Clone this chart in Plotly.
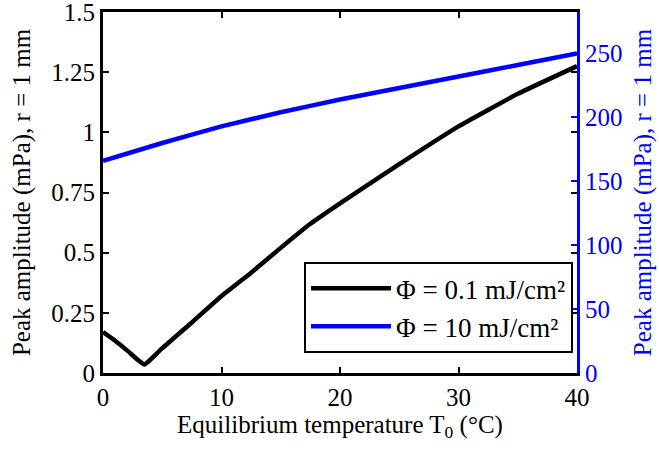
import plotly.graph_objects as go

# Data
t_low = [0, 1, 2, 3, 3.5, 4, 5, 7.5, 10, 12.5, 15, 17.5, 20, 25, 30, 35, 40]
amp_low = [0.17, 0.135, 0.095, 0.052, 0.035, 0.055, 0.103, 0.21, 0.32, 0.417, 0.52, 0.62, 0.705, 0.868, 1.025, 1.16, 1.275]

t_high = [0, 5, 10, 15, 20, 25, 30, 35, 40]
amp_high = [166, 180, 193, 204, 214, 223, 232, 241, 250]

left_ticks = [0, 0.25, 0.5, 0.75, 1, 1.25, 1.5]
left_ticktext = ["0", "0.25", "0.5", "0.75", "1", "1.25", "1.5"]
right_ticks = [0, 50, 100, 150, 200, 250]
x_ticks = [0, 10, 20, 30, 40]

FONT = "Liberation Serif"
BLUE = "#0000ff"

fig = go.Figure()
fig.add_trace(go.Scatter(x=t_low, y=amp_low, mode="lines", name="Φ = 0.1 mJ/cm²",
                         line=dict(color="black", width=4.5, shape="spline", smoothing=0.3)))
fig.add_trace(go.Scatter(x=t_high, y=amp_high, mode="lines", name="Φ = 10 mJ/cm²",
                         yaxis="y2", line=dict(color=BLUE, width=4.5, shape="spline", smoothing=0.3)))

fig.update_layout(
    width=659, height=453,
    margin=dict(l=103, r=82, t=12, b=80, autoexpand=False),
    paper_bgcolor="white", plot_bgcolor="white",
    font=dict(family=FONT, size=25, color="black"),
    xaxis=dict(range=[0, 40], tickvals=x_ticks, ticks="inside", ticklen=6, tickwidth=2,
               tickcolor="black", showline=True, linecolor="black", linewidth=3, mirror="ticks",
               showgrid=False, zeroline=False, tickfont=dict(size=25), automargin=False,
               ticklabeloverflow="allow",
               title=dict(text="Equilibrium temperature T<sub>0</sub> (°C)", font=dict(size=25), standoff=2)),
    yaxis=dict(range=[0, 1.5], tickvals=left_ticks, ticktext=left_ticktext, ticks="inside",
               ticklen=6, tickwidth=2, tickcolor="black", showline=True, linecolor="black",
               linewidth=3, mirror="ticks", showgrid=False, zeroline=False, tickfont=dict(size=25),
               automargin=False, ticklabeloverflow="allow",
               title=dict(text="Peak amplitude (mPa), r = 1 mm", font=dict(size=25), standoff=14)),
    yaxis2=dict(range=[0, 282.5], tickvals=right_ticks, overlaying="y", side="right",
                ticks="inside", ticklen=6, tickwidth=2, tickcolor=BLUE, showline=True,
                linecolor=BLUE, linewidth=3, showgrid=False, zeroline=False,
                tickfont=dict(size=25, color=BLUE), automargin=False, ticklabeloverflow="allow",
                title=dict(text="Peak amplitude (mPa), r = 1 mm", font=dict(size=25, color=BLUE), standoff=12)),
    legend=dict(x=0.9916, y=0.055, xanchor="right", yanchor="bottom", bgcolor="white",
                bordercolor="black", borderwidth=2, font=dict(size=27), tracegroupgap=0,
                itemwidth=80),
    showlegend=True,
)

fig.write_html("out.html", post_script="document.body.style.margin='0';",
               config={"displayModeBar": False})
